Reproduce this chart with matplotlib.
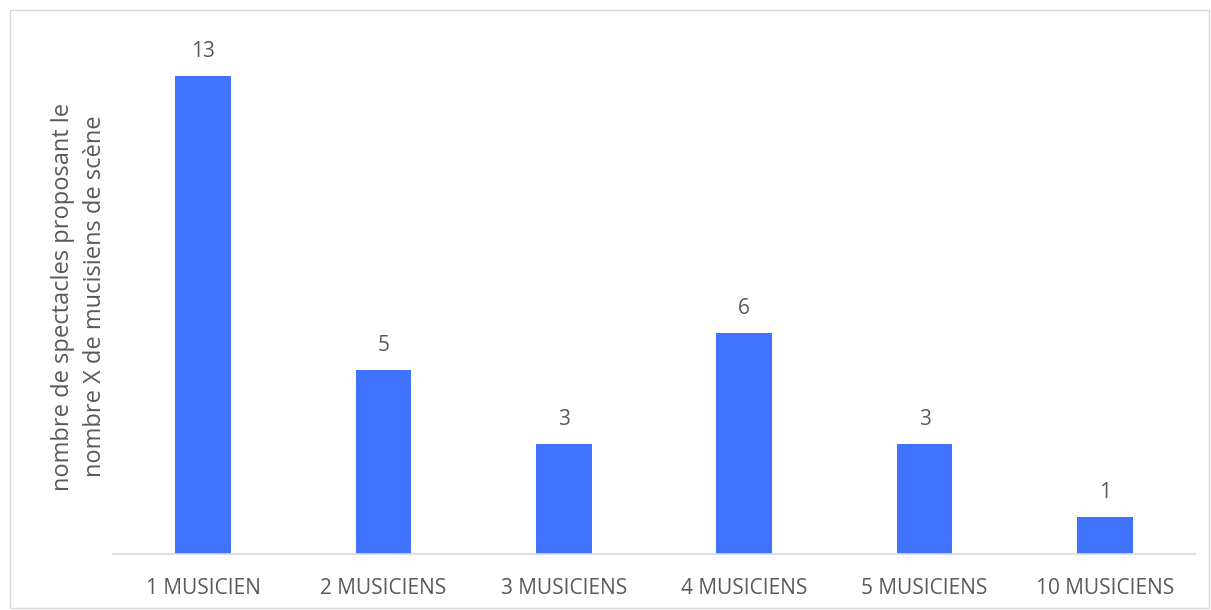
import matplotlib.pyplot as plt
from matplotlib.patches import Rectangle

categories = ["1 MUSICIEN", "2 MUSICIENS", "3 MUSICIENS", "4 MUSICIENS", "5 MUSICIENS", "10 MUSICIENS"]
values = [13, 5, 3, 6, 3, 1]

plt.rcParams['font.family'] = ['Open Sans', 'DejaVu Sans']
text_color = "#595959"

fig = plt.figure(figsize=(12.11, 6.10), dpi=100)
ax = fig.add_axes([0.0933, 0.0918, 0.8935, 0.8442])

x = range(len(categories))
bars = ax.bar(x, values, width=0.31, color="#3F72FF")
for b, v in zip(bars, values):
    ax.annotate(str(v), (b.get_x() + b.get_width() / 2, v), xytext=(0, 10),
                textcoords="offset points", ha="center", va="bottom",
                fontsize=15, color=text_color)

ax.set_xlim(-0.5, len(categories) - 0.5)
ax.set_ylim(0, 14)
ax.set_xticks(list(x))
ax.set_xticklabels(categories, fontsize=15, color=text_color)
ax.tick_params(axis="x", length=0, pad=17)
ax.set_yticks([])
for s in ["top", "right", "left"]:
    ax.spines[s].set_visible(False)
ax.spines["bottom"].set_color("#d9d9d9")
ax.spines["bottom"].set_linewidth(1.2)

ax.set_ylabel("nombre de spectacles proposant le\nnombre X de mucisiens de scène",
              fontsize=17, color=text_color, labelpad=4, linespacing=1.45)

# frame around the whole chart
fig.patches.append(Rectangle((10 / 1211, 2 / 610), 1199 / 1211, 598 / 610,
                             transform=fig.transFigure, fill=False,
                             edgecolor="#d9d9d9", linewidth=1))

fig.savefig("out.png", dpi=100)
